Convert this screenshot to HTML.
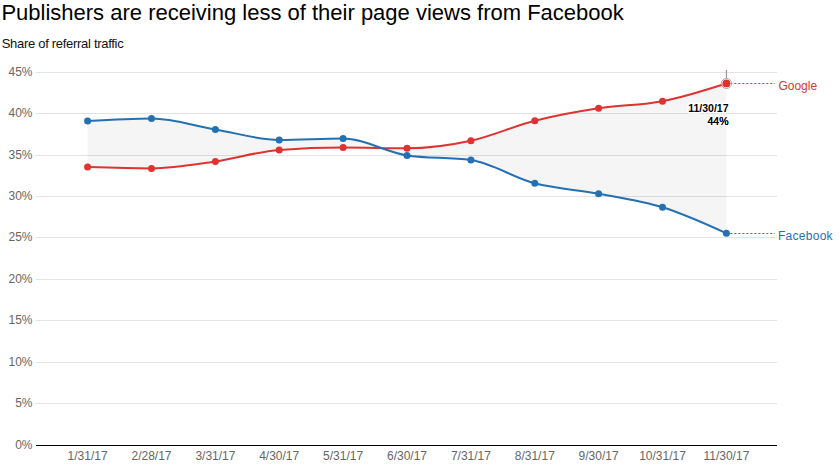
<!DOCTYPE html>
<html><head><meta charset="utf-8"><style>
html,body{margin:0;padding:0;background:#fff;width:840px;height:470px;overflow:hidden}
svg{position:absolute;left:0;top:0}
text{font-family:"Liberation Sans",sans-serif}
.ax{font-size:12px;fill:#666}
.lab{font-size:12px}
.ann{font-size:10.5px;fill:#000;stroke:#fff;stroke-width:3px;paint-order:stroke;stroke-linejoin:round}
.ann.b{font-weight:bold}
</style></head><body>
<svg width="840" height="470" viewBox="0 0 840 470">
<text x="1.4" y="19.6" style="font-size:22px" fill="#000">Publishers are receiving less of their page views from Facebook</text>
<text x="1.7" y="48" style="font-size:13px" fill="#111" textLength="122" lengthAdjust="spacing">Share of referral traffic</text>
<rect x="36" y="72" width="741" height="1" fill="#e3e3e3"/>
<rect x="36" y="113" width="741" height="1" fill="#e3e3e3"/>
<rect x="36" y="155" width="741" height="1" fill="#e3e3e3"/>
<rect x="36" y="196" width="741" height="1" fill="#e3e3e3"/>
<rect x="36" y="237" width="741" height="1" fill="#e3e3e3"/>
<rect x="36" y="279" width="741" height="1" fill="#e3e3e3"/>
<rect x="36" y="320" width="741" height="1" fill="#e3e3e3"/>
<rect x="36" y="362" width="741" height="1" fill="#e3e3e3"/>
<rect x="36" y="403" width="741" height="1" fill="#e3e3e3"/>
<path d="M87.60,121.10 C108.89,119.80 130.19,118.50 151.48,118.50 C172.77,118.50 194.07,125.83 215.36,129.40 C236.65,132.97 257.95,139.90 279.24,139.90 C300.53,139.90 321.83,138.50 343.12,138.50 C364.41,138.50 385.71,152.27 407.00,155.40 C428.29,158.53 449.59,156.97 470.88,160.10 C492.17,163.23 513.47,177.70 534.76,183.30 C556.05,188.90 577.35,189.70 598.64,193.70 C619.93,197.70 641.23,200.70 662.52,207.30 C683.81,213.90 705.11,223.60 726.40,233.30 L726.40,83.40 C705.11,90.23 683.81,97.07 662.52,101.20 C641.23,105.33 619.93,104.95 598.64,108.20 C577.35,111.45 556.05,115.28 534.76,120.70 C513.47,126.12 492.17,136.10 470.88,140.70 C449.59,145.30 428.29,148.30 407.00,148.30 C385.71,148.30 364.41,147.50 343.12,147.50 C321.83,147.50 300.53,148.30 279.24,149.90 C257.95,151.50 236.65,158.42 215.36,161.50 C194.07,164.58 172.77,168.40 151.48,168.40 C130.19,168.40 108.89,167.75 87.60,167.10 Z" fill="#000" fill-opacity="0.04"/>
<rect x="36" y="445" width="741" height="1" fill="#000"/>
<text x="32.5" y="75.7" text-anchor="end" class="ax">45%</text>
<text x="32.5" y="116.7" text-anchor="end" class="ax">40%</text>
<text x="32.5" y="158.7" text-anchor="end" class="ax">35%</text>
<text x="32.5" y="199.7" text-anchor="end" class="ax">30%</text>
<text x="32.5" y="240.7" text-anchor="end" class="ax">25%</text>
<text x="32.5" y="282.7" text-anchor="end" class="ax">20%</text>
<text x="32.5" y="323.7" text-anchor="end" class="ax">15%</text>
<text x="32.5" y="365.7" text-anchor="end" class="ax">10%</text>
<text x="32.5" y="406.7" text-anchor="end" class="ax">5%</text>
<text x="32.5" y="448.7" text-anchor="end" class="ax">0%</text>
<text x="87.6" y="459.5" text-anchor="middle" class="ax">1/31/17</text>
<text x="151.5" y="459.5" text-anchor="middle" class="ax">2/28/17</text>
<text x="215.4" y="459.5" text-anchor="middle" class="ax">3/31/17</text>
<text x="279.2" y="459.5" text-anchor="middle" class="ax">4/30/17</text>
<text x="343.1" y="459.5" text-anchor="middle" class="ax">5/31/17</text>
<text x="407.0" y="459.5" text-anchor="middle" class="ax">6/30/17</text>
<text x="470.9" y="459.5" text-anchor="middle" class="ax">7/31/17</text>
<text x="534.8" y="459.5" text-anchor="middle" class="ax">8/31/17</text>
<text x="598.6" y="459.5" text-anchor="middle" class="ax">9/30/17</text>
<text x="662.5" y="459.5" text-anchor="middle" class="ax">10/31/17</text>
<text x="726.4" y="459.5" text-anchor="middle" class="ax">11/30/17</text>
<line x1="726.4" y1="83.5" x2="775" y2="83.5" stroke="#de3331" stroke-width="1" stroke-dasharray="2,2"/>
<line x1="726.4" y1="233.5" x2="775" y2="233.5" stroke="#2370b3" stroke-width="1" stroke-dasharray="2,2"/>
<path d="M87.60,167.10 C108.89,167.75 130.19,168.40 151.48,168.40 C172.77,168.40 194.07,164.58 215.36,161.50 C236.65,158.42 257.95,151.50 279.24,149.90 C300.53,148.30 321.83,147.50 343.12,147.50 C364.41,147.50 385.71,148.30 407.00,148.30 C428.29,148.30 449.59,145.30 470.88,140.70 C492.17,136.10 513.47,126.12 534.76,120.70 C556.05,115.28 577.35,111.45 598.64,108.20 C619.93,104.95 641.23,105.33 662.52,101.20 C683.81,97.07 705.11,90.23 726.40,83.40" fill="none" stroke="#de3331" stroke-width="2"/>
<path d="M87.60,121.10 C108.89,119.80 130.19,118.50 151.48,118.50 C172.77,118.50 194.07,125.83 215.36,129.40 C236.65,132.97 257.95,139.90 279.24,139.90 C300.53,139.90 321.83,138.50 343.12,138.50 C364.41,138.50 385.71,152.27 407.00,155.40 C428.29,158.53 449.59,156.97 470.88,160.10 C492.17,163.23 513.47,177.70 534.76,183.30 C556.05,188.90 577.35,189.70 598.64,193.70 C619.93,197.70 641.23,200.70 662.52,207.30 C683.81,213.90 705.11,223.60 726.40,233.30" fill="none" stroke="#2370b3" stroke-width="2"/>
<circle cx="87.6" cy="167.1" r="3.5" fill="#de3331"/>
<circle cx="151.5" cy="168.4" r="3.5" fill="#de3331"/>
<circle cx="215.4" cy="161.5" r="3.5" fill="#de3331"/>
<circle cx="279.2" cy="149.9" r="3.5" fill="#de3331"/>
<circle cx="343.1" cy="147.5" r="3.5" fill="#de3331"/>
<circle cx="407.0" cy="148.3" r="3.5" fill="#de3331"/>
<circle cx="470.9" cy="140.7" r="3.5" fill="#de3331"/>
<circle cx="534.8" cy="120.7" r="3.5" fill="#de3331"/>
<circle cx="598.6" cy="108.2" r="3.5" fill="#de3331"/>
<circle cx="662.5" cy="101.2" r="3.5" fill="#de3331"/>
<circle cx="726.4" cy="83.4" r="3.5" fill="#de3331"/>
<circle cx="87.6" cy="121.1" r="3.5" fill="#2370b3"/>
<circle cx="151.5" cy="118.5" r="3.5" fill="#2370b3"/>
<circle cx="215.4" cy="129.4" r="3.5" fill="#2370b3"/>
<circle cx="279.2" cy="139.9" r="3.5" fill="#2370b3"/>
<circle cx="343.1" cy="138.5" r="3.5" fill="#2370b3"/>
<circle cx="407.0" cy="155.4" r="3.5" fill="#2370b3"/>
<circle cx="470.9" cy="160.1" r="3.5" fill="#2370b3"/>
<circle cx="534.8" cy="183.3" r="3.5" fill="#2370b3"/>
<circle cx="598.6" cy="193.7" r="3.5" fill="#2370b3"/>
<circle cx="662.5" cy="207.3" r="3.5" fill="#2370b3"/>
<circle cx="726.4" cy="233.3" r="3.5" fill="#2370b3"/>
<line x1="726.4" y1="70" x2="726.4" y2="77.9" stroke="#888" stroke-width="1"/>
<circle cx="726.4" cy="83.4" r="5" fill="none" stroke="#999" stroke-width="1"/>
<circle cx="726.4" cy="83.4" r="4.3" fill="none" stroke="#fff" stroke-width="0.8"/>
<circle cx="726.4" cy="83.4" r="3.9" fill="#de3331"/>
<text x="728.5" y="111.7" text-anchor="end" class="ann b">11/30/17</text>
<text x="728.5" y="124.5" text-anchor="end" class="ann">44%</text>
<text x="728.5" y="124.5" text-anchor="end" style="font-size:10.5px" fill="#000" stroke="#000" stroke-width="0.12">44%</text>
<text x="778.4" y="89.8" class="lab" fill="#de3331">Google</text>
<text x="778" y="239.5" class="lab" fill="#2370b3" textLength="54.6" lengthAdjust="spacing">Facebook</text>
</svg>
</body></html>
